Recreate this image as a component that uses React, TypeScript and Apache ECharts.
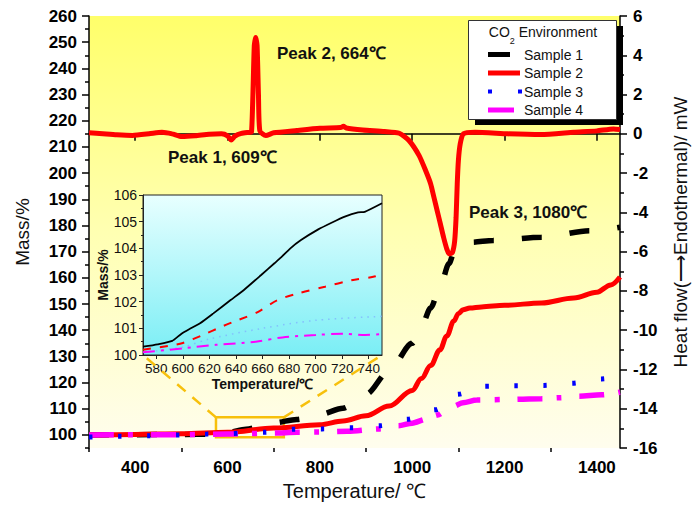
import React, { useEffect, useRef } from 'react';
import * as echarts from 'echarts';

const FONT = '"Liberation Sans", Arial, Helvetica, sans-serif';

// ---- Main panel: mass (%) vs temperature (°C) ----
const sample1Mass: [number, number][] = [
  [300, 100.0], [400, 100.1], [500, 100.2], [570, 100.3], [600, 100.8], [640, 102.2], [700, 104.6],
  [750, 105.9], [800, 107.8], [850, 110.2], [900, 115.5], [950, 124.5], [1000, 135], [1020, 141.5],
  [1040, 148.5], [1060, 156.5], [1080, 165.5], [1090, 169.5], [1105, 172.3], [1130, 173.6],
  [1175, 174.3], [1280, 175.5], [1385, 178], [1450, 179.3],
];
const sample2Mass: [number, number][] = [
  [300, 100], [400, 100.2], [500, 100.4], [600, 101], [700, 102.6], [800, 103.9], [850, 105.3],
  [900, 107.3], [950, 111], [1000, 117], [1020, 121.5], [1040, 126.5], [1060, 132.5], [1075, 137.8],
  [1090, 143.5], [1100, 146.3], [1110, 147.8], [1125, 148.5], [1150, 148.9], [1200, 149.5],
  [1280, 150.4], [1350, 152.3], [1400, 154.5], [1430, 157.3], [1450, 160.3],
];
const sample3Mass: [number, number][] = [
  [300, 99.2], [370, 99.5], [430, 99.7], [490, 100.0], [555, 100.3], [600, 100.5], [680, 101.0],
  [745, 102.2], [805, 102.3], [870, 102.7], [930, 103.5], [990, 106.0], [1050, 109.6], [1100, 115.5],
  [1150, 118.6], [1220, 118.8], [1285, 118.9], [1345, 119.7], [1410, 121.4], [1450, 122.4],
];
const sample4Mass: [number, number][] = [
  [300, 100], [500, 100.1], [600, 100.3], [700, 100.7], [750, 101], [800, 101.1], [860, 101.4],
  [930, 102.3], [970, 103.5], [1000, 104.5], [1030, 106], [1055, 107.6], [1075, 109.5], [1090, 111],
  [1110, 112.3], [1140, 113.3], [1200, 113.5], [1280, 113.8], [1320, 114.2], [1360, 114.8],
  [1410, 115.3], [1450, 116.3],
];
// Sample 2 heat flow (mW), right axis
const sample2Heat: [number, number][] = [
  [300, 0.05], [330, 0.0], [360, -0.05], [394, -0.08], [430, 0.0], [458, 0.08], [480, 0.0],
  [501, -0.14], [530, -0.1], [560, -0.02], [587, 0.0], [600, -0.1], [608, -0.32], [616, -0.12],
  [630, 0.02], [648, 0.08], [652, 0.1], [655, 2.0], [658, 4.5], [661, 4.9], [664, 4.5], [667, 2.0],
  [670, 0.15], [683, -0.09], [700, 0.05], [750, 0.17], [800, 0.28], [845, 0.32], [851, 0.38],
  [857, 0.3], [893, 0.2], [940, 0.12], [972, 0.03], [993, -0.34], [1015, -1.11], [1029, -1.87],
  [1040, -2.55], [1047, -3.23], [1054, -3.91], [1061, -4.59], [1068, -5.28], [1075, -5.87],
  [1080, -6.12], [1087, -6.04], [1092, -5.44], [1095, -4.26], [1097.5, -2.55], [1100, -1.36],
  [1104, -0.51], [1111, 0.0], [1136, 0.08], [1207, 0.0], [1279, -0.04], [1350, 0.08],
  [1400, 0.15], [1436, 0.25], [1450, 0.22],
];

// ---- Inset: zoom on 570–750 °C ----
const insetSample1: [number, number][] = [
  [570, 100.31], [581, 100.4], [592, 100.53], [599, 100.8], [606, 101.0], [613, 101.19],
  [623, 101.56], [636, 102.06], [646, 102.44], [659, 103.0], [669, 103.44], [674, 103.66],
  [681, 104.0], [689, 104.31], [702, 104.71], [712, 104.96], [722, 105.19], [732, 105.35],
  [737, 105.37], [750, 105.69],
];
const insetSample2: [number, number][] = [
  [570, 100.2], [590, 100.35], [600, 100.45], [615, 100.75], [630, 101.08], [641, 101.3],
  [656, 101.6], [671, 102.05], [686, 102.3], [707, 102.56], [727, 102.8], [745, 102.95], [750, 103.1],
];
const insetSample3: [number, number][] = [
  [570, 100.1], [600, 100.3], [620, 100.6], [660, 101.0], [700, 101.3], [750, 101.45],
];
const insetSample4: [number, number][] = [
  [570, 100.1], [600, 100.25], [625, 100.38], [655, 100.5], [675, 100.66], [700, 100.75],
  [720, 100.8], [735, 100.75], [750, 100.78],
];

// ---- Ticks ----
const tempMajorTicks = [400, 600, 800, 1000, 1200, 1400];
const tempMinorTicks = [300, 500, 700, 900, 1100, 1300];
const massMajorTicks = [100, 110, 120, 130, 140, 150, 160, 170, 180, 190, 200, 210, 220, 230, 240, 250, 260];
const massMinorTicks = [95, 105, 115, 125, 135, 145, 155, 165, 175, 185, 195, 205, 215, 225, 235, 245, 255];
const insetTempTicks = [580, 600, 620, 640, 660, 680, 700, 720, 740];

// zoom box on main panel (temperature range, mass range)
const zoomBoxTemp = [575, 722];
const zoomBoxMass = [99.1, 106.7];

const legendItems = [
  { name: 'Sample 1', color: '#000000', width: 5, dash: null as number[] | null, len: 22 },
  { name: 'Sample 2', color: '#ff0000', width: 5, dash: null as number[] | null, len: 32 },
  { name: 'Sample 3', color: '#0000ff', width: 4, dash: [4, 26], len: 34 },
  { name: 'Sample 4', color: '#ff00ff', width: 5, dash: null as number[] | null, len: 26 },
];

const black = '#000';
const plain = (v: number) => String(v);

function buildOption(): any {
  const tickStyle = { color: black, width: 1.5 };
  return {
    animation: false,
    backgroundColor: '#ffffff',
    textStyle: { fontFamily: FONT },
    grid: [
      {
        left: 89, top: 16, right: 71, bottom: 73, show: true, borderWidth: 0,
        backgroundColor: new echarts.graphic.LinearGradient(0, 0, 0, 1, [
          { offset: 0, color: '#ffff6a' },
          { offset: 0.5, color: '#ffffb2' },
          { offset: 1, color: '#fffdee' },
        ]),
      },
      {
        left: 143, top: 195, width: 239, height: 160, show: true, borderColor: '#222', borderWidth: 1,
        backgroundColor: new echarts.graphic.LinearGradient(0, 0, 0, 1, [
          { offset: 0, color: '#e8ffff' },
          { offset: 1, color: '#7aeef5' },
        ]),
      },
    ],
    xAxis: [
      {
        type: 'value', gridIndex: 0, min: 300, max: 1450, position: 'bottom',
        axisLine: { show: true, lineStyle: { color: black, width: 1.5 } },
        axisTick: { show: true, customValues: tempMajorTicks, length: 7, lineStyle: tickStyle },
        axisLabel: { customValues: tempMajorTicks, formatter: plain, fontSize: 17, fontWeight: 'bold', color: black, margin: 11, fontFamily: FONT },
        splitLine: { show: false },
        name: 'Temperature/ ℃', nameLocation: 'middle', nameGap: 33,
        nameTextStyle: { fontSize: 20, color: '#111', fontFamily: FONT },
      },
      {
        type: 'value', gridIndex: 0, min: 300, max: 1450, position: 'bottom',
        axisLine: { show: false },
        axisTick: { show: true, customValues: tempMinorTicks, length: 4, lineStyle: tickStyle },
        axisLabel: { show: false }, splitLine: { show: false },
      },
      {
        type: 'value', gridIndex: 1, min: 570, max: 750, position: 'bottom',
        axisLine: { show: true, lineStyle: { color: '#222', width: 1 } },
        axisTick: { show: true, customValues: insetTempTicks, length: 4, lineStyle: { color: '#222' } },
        axisLabel: { customValues: insetTempTicks, formatter: plain, fontSize: 13.5, color: '#111', margin: 6, fontFamily: FONT },
        splitLine: { show: false },
        name: 'Temperature/℃', nameLocation: 'middle', nameGap: 22,
        nameTextStyle: { fontSize: 14, fontWeight: 'bold', color: '#111', fontFamily: FONT },
      },
    ],
    yAxis: [
      {
        type: 'value', gridIndex: 0, min: 95, max: 260, position: 'left',
        axisLine: { show: true, lineStyle: { color: black, width: 1.5 } },
        axisTick: { show: true, customValues: massMajorTicks, length: 7, lineStyle: tickStyle },
        axisLabel: { customValues: massMajorTicks, formatter: plain, fontSize: 17, fontWeight: 'bold', color: black, margin: 12, fontFamily: FONT },
        splitLine: { show: false },
        name: 'Mass/%', nameLocation: 'middle', nameGap: 57, nameRotate: 90,
        nameTextStyle: { fontSize: 19, color: '#111', fontFamily: FONT },
      },
      {
        type: 'value', gridIndex: 0, min: 95, max: 260, position: 'left',
        axisLine: { show: false },
        axisTick: { show: true, customValues: massMinorTicks, length: 4, lineStyle: tickStyle },
        axisLabel: { show: false }, splitLine: { show: false },
      },
      {
        type: 'value', gridIndex: 0, min: -16, max: 6, interval: 2, position: 'right',
        axisLine: { show: true, lineStyle: { color: black, width: 1.5 } },
        axisTick: { show: true, length: 7, lineStyle: tickStyle },
        minorTick: { show: true, splitNumber: 2, length: 4, lineStyle: tickStyle },
        axisLabel: { formatter: plain, fontSize: 17, fontWeight: 'bold', color: black, margin: 13, fontFamily: FONT },
        splitLine: { show: false },
        name: 'Heat flow(⟶Endothermal)/ mW', nameLocation: 'middle', nameGap: 51, nameRotate: 90,
        nameTextStyle: { fontSize: 19, color: '#111', fontFamily: FONT },
      },
      {
        type: 'value', gridIndex: 1, min: 100, max: 106, interval: 1, position: 'left',
        axisLine: { show: true, lineStyle: { color: '#222', width: 1 } },
        axisTick: { show: true, length: 4, lineStyle: { color: '#222' } },
        minorTick: { show: true, splitNumber: 2, length: 2, lineStyle: { color: '#222' } },
        axisLabel: { formatter: plain, fontSize: 14, color: '#111', margin: 6, fontFamily: FONT },
        splitLine: { show: false },
        name: 'Mass/%', nameLocation: 'middle', nameGap: 33, nameRotate: 90,
        nameTextStyle: { fontSize: 14, fontWeight: 'bold', color: '#111', fontFamily: FONT },
      },
    ],
    series: [
      {
        type: 'line', name: 'Sample 1', xAxisIndex: 0, yAxisIndex: 0, data: sample1Mass,
        showSymbol: false, symbol: 'none', smooth: 0.3, smoothMonotone: 'x',
        lineStyle: { color: '#000', width: 5.5, type: [20, 28], cap: 'butt' },
      },
      {
        type: 'line', name: 'Sample 2 heat', xAxisIndex: 0, yAxisIndex: 2, data: sample2Heat,
        showSymbol: false, symbol: 'none', smooth: 0.2,
        lineStyle: { color: '#ff0000', width: 5 },
      },
      {
        type: 'line', name: 'Sample 2', xAxisIndex: 0, yAxisIndex: 0, data: sample2Mass,
        showSymbol: false, symbol: 'none', smooth: 0.35, smoothMonotone: 'x',
        lineStyle: { color: '#ff0000', width: 5 },
        markArea: {
          silent: true, label: { show: false },
          itemStyle: { color: 'rgba(0,0,0,0)', borderColor: '#f7c00c', borderWidth: 2.5 },
          data: [[{ xAxis: zoomBoxTemp[0], yAxis: zoomBoxMass[0] }, { xAxis: zoomBoxTemp[1], yAxis: zoomBoxMass[1] }]],
        },
      },
      {
        type: 'line', name: 'Sample 4', xAxisIndex: 0, yAxisIndex: 0, data: sample4Mass,
        showSymbol: false, symbol: 'none', smooth: 0.3, smoothMonotone: 'x',
        lineStyle: { color: '#ff00ff', width: 5.5, type: [25, 14, 5, 18], cap: 'butt' },
      },
      {
        type: 'line', name: 'Sample 3', xAxisIndex: 0, yAxisIndex: 0, data: sample3Mass,
        showSymbol: false, symbol: 'none', smooth: 0.3, smoothMonotone: 'x',
        lineStyle: { color: '#0000ff', width: 5, type: [3.5, 25.5], cap: 'butt' },
      },
      {
        type: 'line', name: 'Inset 1', xAxisIndex: 2, yAxisIndex: 3, data: insetSample1,
        showSymbol: false, symbol: 'none', smooth: 0.2, clip: true,
        lineStyle: { color: '#000', width: 1.8 },
      },
      {
        type: 'line', name: 'Inset 2', xAxisIndex: 2, yAxisIndex: 3, data: insetSample2,
        showSymbol: false, symbol: 'none', smooth: 0.3, clip: true,
        lineStyle: { color: '#ff0000', width: 2, type: [8, 9] },
      },
      {
        type: 'line', name: 'Inset 3', xAxisIndex: 2, yAxisIndex: 3, data: insetSample3,
        showSymbol: false, symbol: 'none', smooth: 0.3, clip: true,
        lineStyle: { color: '#7fb4ff', width: 1.5, type: [1.5, 5], opacity: 0.8 },
      },
      {
        type: 'line', name: 'Inset 4', xAxisIndex: 2, yAxisIndex: 3, data: insetSample4,
        showSymbol: false, symbol: 'none', smooth: 0.3, clip: true,
        lineStyle: { color: '#ff00ff', width: 2, type: [12, 6, 3, 6] },
      },
    ],
  };
}

function buildGraphic(chart: any): any[] {
  const toPx = (xi: number, yi: number, v: number[]) =>
    chart.convertToPixel({ xAxisIndex: xi, yAxisIndex: yi }, v) as number[];
  const boxTL = toPx(0, 0, [zoomBoxTemp[0], zoomBoxMass[1]]);
  const boxTR = toPx(0, 0, [zoomBoxTemp[1], zoomBoxMass[1]]);
  const insBL = toPx(2, 3, [570, 100]);
  const insBR = toPx(2, 3, [750, 100]);
  const conn = { stroke: '#f7c00c', lineWidth: 2.5, lineDash: [11, 9] };

  const g: any[] = [
    { type: 'line', z: 50, shape: { x1: boxTL[0], y1: boxTL[1], x2: insBL[0], y2: insBL[1] }, style: conn, silent: true },
    { type: 'line', z: 50, shape: { x1: boxTR[0], y1: boxTR[1], x2: insBR[0], y2: insBR[1] }, style: conn, silent: true },
    { type: 'text', z: 60, x: 168, y: 157, style: { text: 'Peak 1, 609℃', fontSize: 17, fontWeight: 'bold', fill: '#111', fontFamily: FONT, verticalAlign: 'middle' } },
    { type: 'text', z: 60, x: 277, y: 53, style: { text: 'Peak 2, 664℃', fontSize: 17, fontWeight: 'bold', fill: '#111', fontFamily: FONT, verticalAlign: 'middle' } },
    { type: 'text', z: 60, x: 469, y: 212, style: { text: 'Peak 3, 1080℃', fontSize: 17, fontWeight: 'bold', fill: '#111', fontFamily: FONT, verticalAlign: 'middle' } },
    // legend
    { type: 'rect', z: 90, shape: { x: 475, y: 26, width: 148, height: 99 }, style: { fill: '#000' }, silent: true },
    { type: 'rect', z: 91, shape: { x: 468.5, y: 20.5, width: 148, height: 99 }, style: { fill: '#fff', stroke: '#333', lineWidth: 1 }, silent: true },
    {
      type: 'text', z: 92, x: 543, y: 35,
      style: {
        text: '{a|CO}{b|2}{a| Environment}', align: 'center', verticalAlign: 'middle', fill: '#111',
        rich: {
          a: { fontSize: 14, fontFamily: FONT, lineHeight: 20, verticalAlign: 'top', fill: '#111' },
          b: { fontSize: 9, fontFamily: FONT, lineHeight: 20, verticalAlign: 'bottom', fill: '#111' },
        },
      },
    },
  ];
  legendItems.forEach((it, i) => {
    const y = 54.5 + i * 18.5;
    g.push({
      type: 'line', z: 92, silent: true,
      shape: { x1: 488, y1: y, x2: 488 + it.len, y2: y },
      style: { stroke: it.color, lineWidth: it.width, lineDash: it.dash || undefined, lineCap: 'butt' },
    });
    g.push({
      type: 'text', z: 92, x: 524, y,
      style: { text: it.name, fontSize: 14, fontFamily: FONT, fill: '#111', verticalAlign: 'middle' },
    });
  });
  return g;
}

export default function App() {
  const ref = useRef<HTMLDivElement>(null);
  useEffect(() => {
    if (!ref.current) return;
    const chart = echarts.init(ref.current, undefined, { renderer: 'svg' });
    chart.setOption(buildOption());
    chart.setOption({ graphic: buildGraphic(chart) });
    return () => chart.dispose();
  }, []);
  return <div ref={ref} style={{ position: 'fixed', left: 0, top: 0, width: 698, height: 521 }} />;
}
